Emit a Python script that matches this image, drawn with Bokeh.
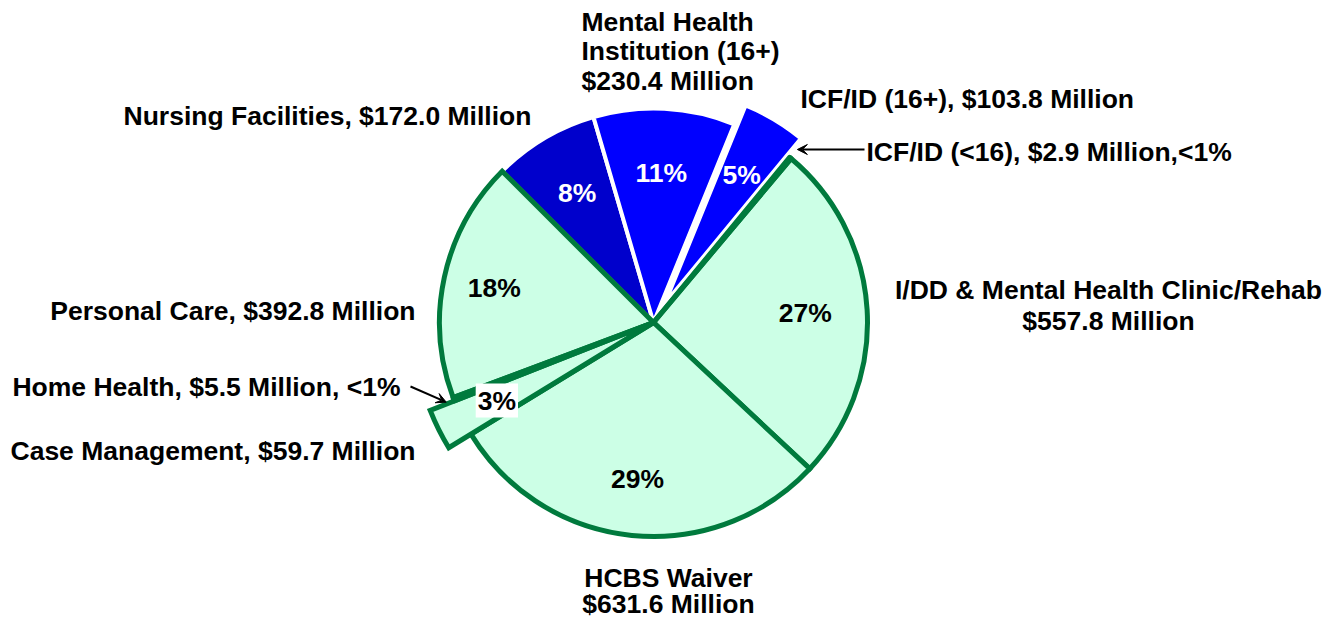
import math
from bokeh.plotting import figure
from bokeh.models import Range1d, Label, Arrow, VeeHead
from bokeh.core.properties import value
from bokeh.embed import file_html
from bokeh.resources import INLINE

# ---- data (clockwise from the top-left) ----
categories = ["Nursing Facilities", "Mental Health Institution (16+)", "ICF/ID (16+)",
              "ICF/ID (<16)", "I/DD & Mental Health Clinic/Rehab", "HCBS Waiver",
              "Case Management", "Home Health", "Personal Care"]
values = [172.0, 230.4, 103.8, 2.9, 557.8, 631.6, 59.7, 5.5, 392.8]
pct_labels = ["8%", "11%", "5%", "", "27%", "29%", "3%", "", "18%"]
groups = ["blue_dark", "blue", "blue", "green", "green", "green", "green", "homehealth", "green"]

W, H = 1336, 620
def X(sx): return sx
def Y(sy): return H - sy

cx, cy = X(653), Y(322)
R = 214
FONT_NAME = "Liberation Sans"
FONT = value(FONT_NAME)
FS = "26.5px"

p = figure(width=W, height=H, output_backend="svg", toolbar_location=None,
           x_range=Range1d(0, W), y_range=Range1d(0, H), min_border=0,
           outline_line_color=None)
p.axis.visible = False
p.grid.visible = False

total = sum(values)
angles = []
a = 135.0
for v in values:
    span = v / total * 360.0
    angles.append((a - span, a))
    a -= span

GREEN = "#007A3D"
MINT = "#CCFFE6"
fills = {"blue_dark": "#0000CC", "blue": "#0000FF", "green": MINT, "homehealth": GREEN}

# blue slices first (white borders)
for i, (lo, hi) in enumerate(angles):
    if not groups[i].startswith("blue"):
        continue
    mid = math.radians((lo + hi) / 2)
    off = 22 if categories[i] == "ICF/ID (16+)" else 0
    p.wedge(x=cx + off * math.cos(mid), y=cy + off * math.sin(mid), radius=R,
            start_angle=math.radians(lo), end_angle=math.radians(hi),
            fill_color=fills[groups[i]], line_color="white", line_width=4)

# green slices
order = [4, 5, 8, 3, 6, 7]
for i in order:
    lo, hi = angles[i]
    r = 240 if categories[i] == "Case Management" else R
    join = "miter" if values[i] > 50 else "round"
    p.wedge(x=cx, y=cy, radius=r,
            start_angle=math.radians(lo), end_angle=math.radians(hi),
            fill_color=fills[groups[i]], line_color=GREEN, line_width=5, line_join=join)

# percent labels
pct_r = [150, 150, 172, 0, 152, 157, 175, 0, 163]
for i, (lo, hi) in enumerate(angles):
    if not pct_labels[i]:
        continue
    mid = math.radians((lo + hi) / 2)
    tx = cx + (pct_r[i]) * math.cos(mid)
    ty = cy + (pct_r[i]) * math.sin(mid)
    col = "white" if groups[i].startswith("blue") else "black"
    if categories[i] == "Case Management":
        p.add_layout(Label(x=tx, y=ty, text=pct_labels[i], text_font=FONT_NAME,
                           text_font_style="bold", text_font_size=FS,
                           text_color=col, text_align="center", text_baseline="middle",
                           background_fill_color="white", padding=2))
    else:
        p.text(x=[tx], y=[ty], text=[pct_labels[i]], text_font=FONT,
               text_font_style="bold", text_font_size=FS, text_color=col,
               text_align="center", text_baseline="middle")

def lab(sx, sy, txt, align):
    p.text(x=[X(sx)], y=[Y(sy)], text=[txt], text_font=FONT, text_font_style="bold",
           text_font_size=FS, text_color="black", text_align=align,
           text_baseline="middle")

m = lambda v: f"${v:.1f} Million"
lab(581, 21, "Mental Health", "left")
lab(581, 50, "Institution (16+)", "left")
lab(581, 80, m(values[1]), "left")
lab(800, 98, f"ICF/ID (16+), {m(values[2])}", "left")
lab(866, 151, f"ICF/ID (<16), {m(values[3])},<1%", "left")
lab(123, 115, f"Nursing Facilities, {m(values[0])}", "left")
lab(1108, 289, "I/DD & Mental Health Clinic/Rehab", "center")
lab(1108, 320, m(values[4]), "center")
lab(415, 310, f"Personal Care, {m(values[8])}", "right")
lab(400, 386, f"Home Health, {m(values[7])}, <1%", "right")
lab(415, 450, f"Case Management, {m(values[6])}", "right")
lab(668, 577, "HCBS Waiver", "center")
lab(668, 603, m(values[5]), "center")

# arrows
def tip(i, r):
    lo, hi = angles[i]
    mid = math.radians((lo + hi) / 2)
    return cx + r * math.cos(mid), cy + r * math.sin(mid)

ex, ey = tip(3, 225)
p.add_layout(Arrow(x_start=X(864), y_start=ey, x_end=ex, y_end=ey,
                   line_color="black", line_width=2,
                   end=VeeHead(size=10, fill_color="black", line_color="black")))
hx, hy = tip(7, 222)
p.add_layout(Arrow(x_start=X(410), y_start=Y(386), x_end=hx, y_end=hy,
                   line_color="black", line_width=2,
                   end=VeeHead(size=10, fill_color="black", line_color="black")))

open("out.html", "w").write(file_html(p, INLINE))
